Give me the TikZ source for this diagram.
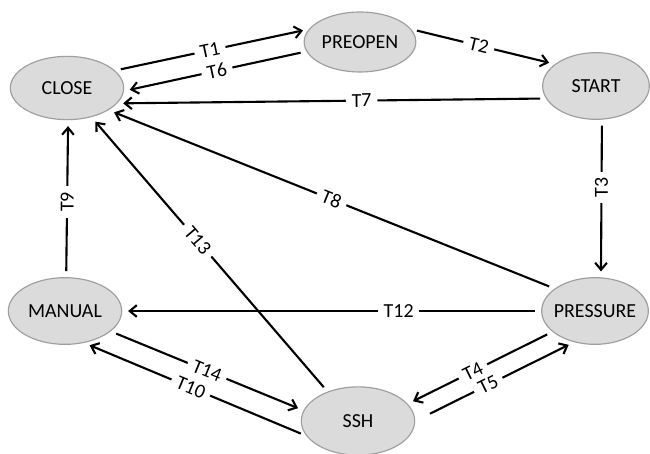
\documentclass[tikz,border=0pt]{standalone}
\usepackage{fontspec}
\setmainfont{Carlito}
\usetikzlibrary{shapes.geometric,arrows.meta}

\begin{document}
\begin{tikzpicture}[x=0.03cm, y=-0.03cm,
      every node/.style = {font=\fontsize{17}{20}\selectfont},
      state/.style = {ellipse, draw=gray!75, line width=1pt, fill=gray!28,
        inner xsep=-4pt, minimum width=3.4cm, minimum height=1.9cm},
      trans/.style = {line width=1.8pt, shorten <=5pt, shorten >=5pt,
        -{Straight Barb[length=6pt,width=10pt]}},
      lbl/.style = {fill=white, inner xsep=5pt, inner ysep=1pt}]
    \useasboundingbox (0,0) rectangle (650,454);

    % states
    \node[state] (close) at (67,88) {CLOSE};
    \node[state, minimum width=3.35cm, minimum height=1.8cm] (preopen) at (360,42) {PREOPEN};
    \node[state, minimum width=3.2cm, minimum height=2cm] (start) at (596,86) {START};
    \node[state, minimum width=3.2cm, minimum height=2cm] (pressure) at (595,311) {PRESSURE};
    \node[state, minimum height=2cm] (manual) at (65,311) {MANUAL};
    \node[state, minimum height=2.05cm] (ssh) at (358,421) {SSH};

    % transitions
    \draw[trans] (close.20) -- node[lbl, sloped, pos=0.49] {T1} (preopen.166);
    \draw[trans] (preopen.190) -- node[lbl, sloped, pos=0.49] {T6} (close.-3);
    \draw[trans] (preopen.14) -- node[lbl, sloped, pos=0.47] {T2} (start.152);
    \draw[trans] (start.194) -- node[lbl, sloped, pos=0.43] {T7} (close.-17);
    \draw[trans] (start.-80) -- node[lbl, rotate=90, pos=0.43] {T3} (pressure.80);
    \draw[trans] (pressure.151) -- node[lbl, sloped, pos=0.5] {T8} (close.-28);
    \draw[trans] (pressure.180) -- node[lbl, pos=0.34] {T12} (manual.0);
    \draw[trans] (manual.88) -- node[lbl, rotate=90, pos=0.48] {T9} (close.-88);
    \draw[trans] (ssh.136) -- node[lbl, sloped, pos=0.55] {T13} (close.-50);
    \draw[trans] (manual.-24) -- node[lbl, sloped, pos=0.5] {T14} (ssh.169);
    \draw[trans] (ssh.196) -- node[lbl, sloped, pos=0.52] {T10} (manual.-59);
    \draw[trans] (pressure.206) -- node[lbl, sloped, pos=0.55] {T4} (ssh.19);
    \draw[trans, shorten <=14pt] (ssh.0) -- node[lbl, sloped, pos=0.46] {T5} (pressure.236);
\end{tikzpicture}
\end{document}
